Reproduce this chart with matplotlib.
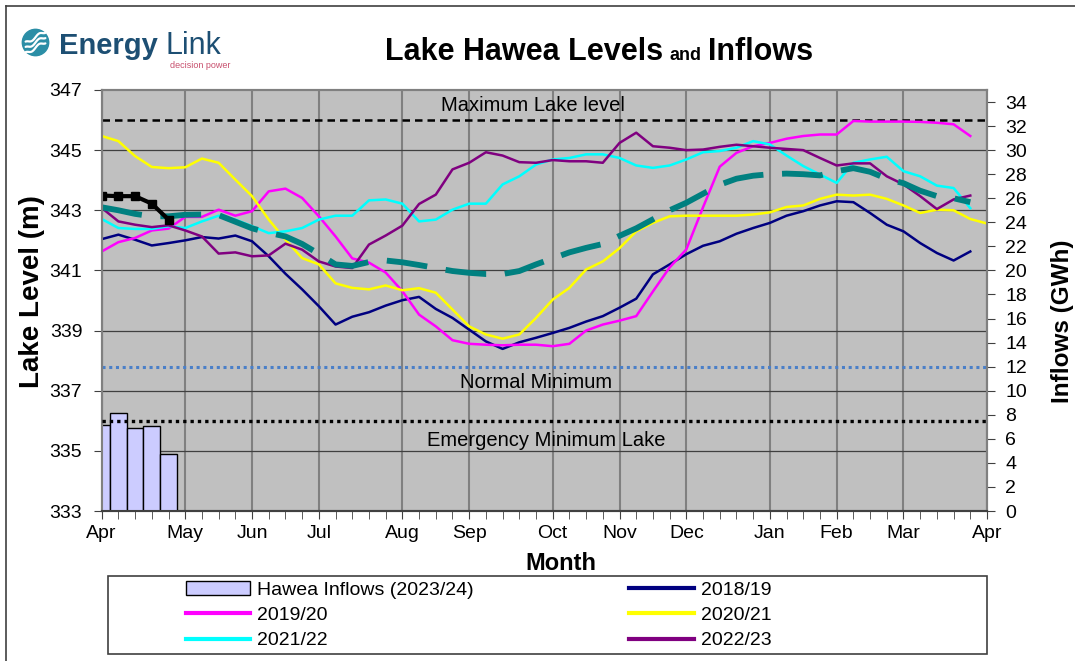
import numpy as np
import matplotlib
matplotlib.use("Agg")
import matplotlib.pyplot as plt
from matplotlib.patches import Rectangle, Circle, Patch
from matplotlib.lines import Line2D

plt.rcParams['font.family'] = ['Liberation Sans', 'DejaVu Sans']

# weekly lake levels (m), week 0 = start of April
levels_1819 = [342.04, 342.19, 342.02, 341.83, 341.91, 342.0, 342.11, 342.06, 342.16, 341.97,
               341.47, 340.89, 340.37, 339.81, 339.2, 339.46, 339.61, 339.83, 340.01, 340.12,
               339.72, 339.42, 339.03, 338.64, 338.39, 338.61, 338.76, 338.92, 339.09, 339.3,
               339.48, 339.76, 340.06, 340.87, 341.2, 341.54, 341.82, 341.97, 342.22, 342.41,
               342.58, 342.82, 342.97, 343.16, 343.3, 343.27, 342.91, 342.52, 342.3, 341.91,
               341.58, 341.33, 341.63]
levels_1920 = [341.63, 341.94, 342.08, 342.33, 342.39, 342.78, 342.78, 343.02, 342.82, 342.97,
               343.63, 343.72, 343.41, 342.8, 342.13, 341.4, 341.26, 340.93, 340.31, 339.53,
               339.14, 338.68, 338.56, 338.53, 338.51, 338.53, 338.53, 338.48, 338.56, 339.0,
               339.2, 339.33, 339.48, 340.3, 341.1, 341.7, 343.1, 344.45, 344.91, 345.13,
               345.24, 345.38, 345.47, 345.52, 345.52, 345.97, 345.95, 345.95, 345.95, 345.94,
               345.91, 345.86, 345.47]
levels_2021 = [345.47, 345.3, 344.8, 344.44, 344.4, 344.43, 344.72, 344.58, 344.02, 343.47,
               342.69, 342.02, 341.41, 341.2, 340.57, 340.42, 340.37, 340.5, 340.34, 340.41,
               340.26, 339.7, 339.14, 338.87, 338.73, 338.87, 339.42, 340.03, 340.42, 341.03,
               341.3, 341.74, 342.3, 342.58, 342.8, 342.82, 342.82, 342.82, 342.82, 342.86,
               342.93, 343.11, 343.16, 343.38, 343.52, 343.49, 343.52, 343.38, 343.16, 342.91,
               343.02, 343.0, 342.71, 342.56]
levels_2122 = [342.71, 342.41, 342.38, 342.38, 342.47, 342.41, 342.63, 342.82, 342.69, 342.47,
               342.24, 342.3, 342.41, 342.69, 342.82, 342.82, 343.33, 343.36, 343.22, 342.63,
               342.69, 343.02, 343.22, 343.22, 343.86, 344.13, 344.52, 344.69, 344.74, 344.86,
               344.86, 344.74, 344.49, 344.41, 344.49, 344.69, 344.93, 344.97, 345.08, 345.3,
               345.19, 344.82, 344.47, 344.19, 343.91, 344.58, 344.69, 344.78, 344.3, 344.13,
               343.82, 343.74, 343.07]
levels_2223 = [343.08, 342.63, 342.52, 342.44, 342.5, 342.33, 342.13, 341.56, 341.6, 341.47,
               341.5, 341.89, 341.69, 341.3, 341.13, 341.08, 341.86, 342.16, 342.49, 343.21,
               343.52, 344.36, 344.58, 344.93, 344.82, 344.6, 344.58, 344.67, 344.63, 344.63,
               344.58, 345.24, 345.58, 345.13, 345.08, 345.0, 345.02, 345.11, 345.18, 345.13,
               345.08, 345.04, 345.0, 344.74, 344.49, 344.56, 344.56, 344.13, 343.86, 343.47,
               343.04, 343.36, 343.49]
levels_avg = [343.1, 343.0, 342.88, 342.8, 342.8, 342.85, 342.86, 342.84, 342.62, 342.4,
              342.25, 342.13, 341.88, 341.55, 341.2, 341.15, 341.28, 341.33, 341.27, 341.18,
              341.08, 340.98, 340.92, 340.88, 340.88, 340.98, 341.2, 341.4, 341.6, 341.75,
              341.88, 342.15, 342.4, 342.7, 343.0, 343.25, 343.55, 343.85, 344.05, 344.15,
              344.2, 344.22, 344.2, 344.16, 344.3, 344.4, 344.28, 344.05, 343.9, 343.65,
              343.47, 343.4, 343.27]
levels_2324 = [343.49, 343.47, 343.47, 343.22, 342.69]
inflows_2324 = [7.15, 8.17, 6.87, 7.07, 4.71]   # GWh

max_level = 346.0
normal_min = 337.8
emergency_min = 336.0

month_weeks = [0, 5, 9, 13, 18, 22, 27, 31, 35, 40, 44, 48, 53]
month_labels = ['Apr', 'May', 'Jun', 'Jul', 'Aug', 'Sep', 'Oct', 'Nov', 'Dec',
                'Jan', 'Feb', 'Mar', 'Apr']

W, H = 1075, 661


def fx(px):
    return px / W


def fy(py):
    return 1 - py / H


fig = plt.figure(figsize=(W / 100, H / 100), dpi=100)
ax = fig.add_axes([fx(101.7), fy(511), fx(987 - 101.7), (511 - 90) / H])
ax2 = ax.twinx()
ax.set_zorder(1)
ax2.set_zorder(2)
ax.set_facecolor('#C0C0C0')
ax2.patch.set_visible(False)

# grid
for w in month_weeks:
    ax.axvline(w, color='#808080', lw=1.5, zorder=0.5)
for v in range(335, 347, 2):
    ax.axhline(v, color='#404040', lw=0.9, zorder=0.5)

# reference levels
ax.axhline(max_level, color='black', lw=1.8, ls=(0, (3, 2)), zorder=2)
ax.axhline(normal_min, color='#4A7FC8', lw=2.2, ls=(0, (1, 1.2)), zorder=2)
ax2.plot([0, 53], [emergency_min, emergency_min], transform=ax.transData,
         color='black', lw=2.4, ls=(0, (1, 1.2)), zorder=3)

ax.text(25.8, 346.5, 'Maximum Lake level', fontsize=14.5, ha='center', va='center')
ax.text(26.0, 337.26, 'Normal Minimum', fontsize=14.5, ha='center', va='center')
ax.text(26.6, 335.36, 'Emergency Minimum Lake', fontsize=14.5, ha='center', va='center')

series = [
    (levels_1819, '#000080', '2018/19'),
    (levels_1920, '#FF00FF', '2019/20'),
    (levels_2021, '#FFFF00', '2020/21'),
    (levels_2122, '#00FFFF', '2021/22'),
    (levels_2223, '#800080', '2022/23'),
]
handles = {}
for vals, col, lab in series:
    h, = ax.plot(np.arange(len(vals)), vals, color=col, lw=1.8, zorder=3, label=lab)
    handles[lab] = h

ax.plot(np.arange(len(levels_avg)), levels_avg, color='#008080', lw=4.2,
        dashes=(7, 3.2), zorder=4)
ax.plot(np.arange(len(levels_2324)), levels_2324, color='black', lw=3,
        marker='s', markersize=6, zorder=5)

bars = ax2.bar(np.arange(len(inflows_2324)), inflows_2324, width=1.0,
               color='#CCCCFF', edgecolor='black', linewidth=1, zorder=2)

# axes
ax.set_xlim(0, 53)
ax.set_ylim(333, 347)
ax2.set_ylim(0, 35)
ax.set_yticks(range(333, 348, 2))
ax2.set_yticks(range(0, 35, 2))
ax.set_xticks(month_weeks)
ax.set_xticklabels(month_labels)
ax.set_xticks(range(0, 54), minor=True)
ax.tick_params(axis='x', which='both', direction='out', length=6, color='#404040',
               labelsize=14, pad=4)
ax.tick_params(axis='y', direction='out', length=6, color='#404040', labelsize=14, pad=8)
ax2.tick_params(axis='y', direction='out', length=6, color='#404040', labelsize=14, pad=7)
for a in (ax, ax2):
    for s in a.spines.values():
        s.set_color('#808080')
        s.set_linewidth(1.5)
    a.spines['bottom'].set_color('#404040')

# titles and labels
fig.text(fx(385), fy(60), 'Lake Hawea Levels', fontsize=22, fontweight='bold',
         ha='left', va='baseline')
fig.text(fx(670), fy(60), 'and', fontsize=13, fontweight='bold', ha='left', va='baseline')
fig.text(fx(708), fy(60), 'Inflows', fontsize=22, fontweight='bold', ha='left', va='baseline')
fig.text(fx(32), fy(292), 'Lake Level (m)', fontsize=20, fontweight='bold',
         rotation=90, ha='center', va='center')
fig.text(fx(1062), fy(321), 'Inflows (GWh)', fontsize=17.5, fontweight='bold',
         rotation=90, ha='center', va='center')
fig.text(fx(561), fy(563), 'Month', fontsize=17, fontweight='bold', ha='center', va='center')

# legend
bar_handle = Patch(facecolor='#CCCCFF', edgecolor='black', linewidth=1)
leg_handles = [bar_handle, handles['2019/20'], handles['2021/22'],
               handles['2018/19'], handles['2020/21'], handles['2022/23']]
leg_labels = ['Hawea Inflows (2023/24)', '2019/20', '2021/22', '2018/19', '2020/21', '2022/23']
fig.legend(leg_handles, leg_labels, loc='upper left', bbox_to_anchor=(fx(186), fy(581)),
           ncol=2, frameon=False, fontsize=14, borderpad=0, handlelength=3.3,
           handletextpad=0.36, columnspacing=8.0, labelspacing=0.4, borderaxespad=0)
for line in fig.legends[0].get_lines():
    line.set_linewidth(3)
fig.add_artist(Rectangle((fx(108), fy(654)), fx(987 - 108), (654 - 576) / H,
                         transform=fig.transFigure, fill=False, edgecolor='#404040', lw=1.2))

# outer border (left and top visible)
fig.add_artist(Line2D([fx(6), fx(6)], [fy(6), 0], transform=fig.transFigure,
                      color='#404040', lw=1.2))
fig.add_artist(Line2D([fx(6), 1], [fy(6), fy(6)], transform=fig.transFigure,
                      color='#404040', lw=1.2))

# logo
lax = fig.add_axes([fx(21), fy(57), fx(29), 29 / H])
lax.set_xlim(-1.1, 1.1)
lax.set_ylim(-1.1, 1.1)
lax.axis('off')
lax.add_patch(Circle((0, 0), 1, color='#2B8EA6'))
t = np.linspace(-0.75, 0.75, 50)
for off in (-0.4, 0.0, 0.4):
    lax.plot(t, 0.6 * t + off + 0.12 * np.sin(t * 6), color='white', lw=1.6,
             solid_capstyle='round')
fig.text(fx(59), fy(54), 'Energy', fontsize=21, color='#1D4F73', ha='left',
         va='baseline', fontweight='bold')
fig.text(fx(165), fy(54), 'Link', fontsize=22, color='#1D4F73', ha='left', va='baseline')
fig.text(fx(170), fy(68), 'decision power', fontsize=6.5, color='#C8506E', ha='left',
         va='baseline')

fig.savefig('out.png', dpi=100)
